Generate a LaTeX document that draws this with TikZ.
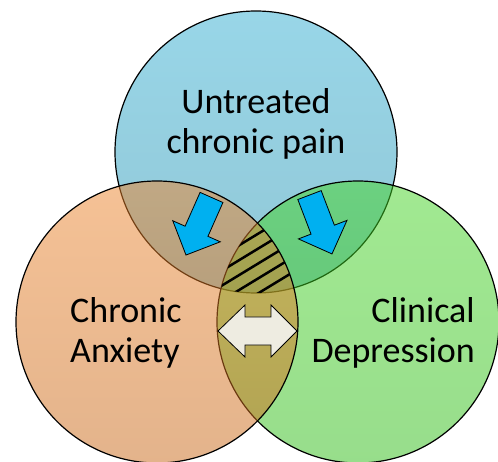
\documentclass[tikz,border=0pt]{standalone}
\usepackage{fontspec}
\setmainfont{Carlito}
\usetikzlibrary{calc}
\definecolor{paintop}{RGB}{152,214,232}
\definecolor{painlow}{RGB}{145,199,214}
\definecolor{anxtop}{RGB}{237,133,45}
\definecolor{anxlow}{RGB}{201,105,25}
\definecolor{deptop}{RGB}{69,213,37}
\definecolor{deplow}{RGB}{49,189,25}
\definecolor{arrowblue}{HTML}{00B0F0}
\definecolor{arrowpale}{HTML}{EEECE1}

\begin{document}
\begin{tikzpicture}[x=1pt, y=-1pt,
    ring/.style={draw=black, line width=1.2pt},
    ringtext/.style={font=\fontsize{36}{40}\selectfont, inner sep=0pt},
    blockarrow/.style={draw=black, line width=0.8pt, fill=arrowblue, line join=miter},
    hatchline/.style={line width=2.5pt, line cap=butt}]
                \useasboundingbox (0,0) rectangle (498,462);
                \clip (0,0) rectangle (498,462);
                \fill[white] (0,0) rectangle (498,462);
                \coordinate (pain) at (256,152);
                \coordinate (anx) at (157,322);
                \coordinate (dep) at (358,322);
                \path[ring, top color=paintop, bottom color=painlow] (pain) circle[radius=141pt];
                \path[ring, top color=deptop, bottom color=deplow, fill opacity=0.5] (dep) circle[radius=141pt];
                \path[ring, top color=anxtop, bottom color=anxlow, fill opacity=0.5] (anx) circle[radius=141pt];
                \begin{scope}
                    \clip (pain) circle[radius=141pt];
                    \clip (anx) circle[radius=141pt];
                    \clip (dep) circle[radius=141pt];
                    \foreach \k in {-2,...,2}
                        \draw[hatchline] ({259+6.6*\k-51},{263+10.9*\k+31}) -- ({259+6.6*\k+51},{263+10.9*\k-31});
                \end{scope}
                \foreach \cx/\cy/\ang in {198.75/226.25/246.1, 320.75/224.5/-69.1}
                    \draw[blockarrow, shift={(\cx,\cy)}, rotate=\ang] (-31.5,12.5) -- (5.5,12.5) -- (5.5,26) -- (31.5,0)
                        -- (5.5,-26) -- (5.5,-12.5) -- (-31.5,-12.5) -- cycle;
                \draw[blockarrow, fill=arrowpale] (218,331) -- (245,305) -- (245,317) -- (271,317) -- (271,305) -- (297,331)
                    -- (271,357) -- (271,345) -- (245,345) -- (245,357) -- cycle;
                \node[ringtext, align=center] (painname) at (256,124) {Untreated\\chronic pain};
                \node[ringtext, align=left, anchor=west] (anxname) at (70,333) {Chronic\\Anxiety};
                \node[ringtext, align=right, anchor=east] (depname) at (475,333) {Clinical\\Depression};
            \end{tikzpicture}
\end{document}
